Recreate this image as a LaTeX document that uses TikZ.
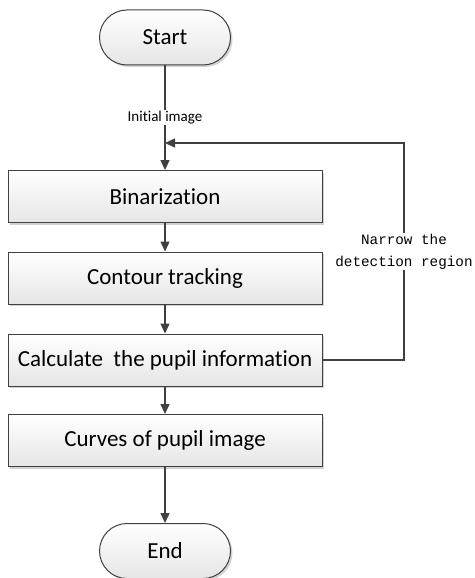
\documentclass[tikz,border=0pt]{standalone}
\usepackage{fontspec}
\setmainfont{Carlito}[Ligatures={NoCommon}]
\newfontfamily\monofont{Liberation Mono}
\usetikzlibrary{arrows.meta,positioning,shapes.misc,shadows}

\definecolor{lineclr}{HTML}{404040}
\tikzset{
  procbox/.style={draw=lineclr,line width=1pt,top color=white,bottom color=black!10,
    drop shadow={shadow xshift=2pt,shadow yshift=-2pt,fill=black!35},
    minimum width=314pt,minimum height=52pt,inner sep=2pt,font=\fontsize{23}{27}\selectfont},
  termbox/.style={procbox,rounded rectangle,minimum width=135pt,minimum height=55pt},
  flow/.style={draw=lineclr,line width=1.4pt,-{Triangle[length=10pt,width=9pt]}}
}

\begin{document}
\begin{tikzpicture}[x=1pt,y=-1pt]
\useasboundingbox (0,0) rectangle (474,578);
\node[termbox] (s0) at (165,37.5) {Start};
\node[procbox] (b1) at (165,196.5) {Binarization};
\node[procbox] (b2) at (165,278) {Contour tracking};
\node[procbox] (b3) at (165,360) {Calculate \ the pupil information};
\node[procbox] (b4) at (165,440.5) {Curves of pupil image};
\node[termbox] (e0) at (165,551) {End};
\coordinate (jn) at (165,143);
\coordinate (fb) at (404,143);
\draw[flow] (s0.south)--node[fill=white,inner sep=1pt,font=\fontsize{15}{18}\selectfont]{Initial image} (b1.north);
\draw[flow] (b1.south)--(b2.north);
\draw[flow] (b2.south)--(b3.north);
\draw[flow] (b3.south)--(b4.north);
\draw[flow] (b4.south)--(e0.north);
\draw[flow] (b3.east) -| node[pos=0.75,fill=white,align=center,inner sep=1pt,font=\monofont\fontsize{14.3}{22}\selectfont]{Narrow the\\detection region} (fb) -- (jn);
\end{tikzpicture}
\end{document}
